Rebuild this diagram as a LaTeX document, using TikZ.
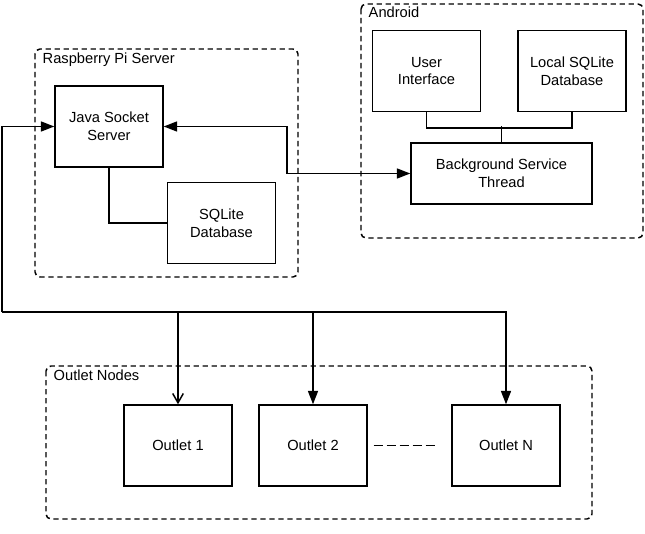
\documentclass[tikz,border=0pt]{standalone}
\usepackage{fontspec}
\setmainfont{Liberation Sans}
\usetikzlibrary{arrows.meta}

\begin{document}
\begin{tikzpicture}[x=0.75pt,y=-0.75pt,line width=1.1pt,
    box/.style={draw,minimum width=81pt,minimum height=60.75pt,align=center,
      font=\fontsize{11}{13.3}\selectfont},
    group/.style={draw,dash pattern=on 4pt off 2.75pt,rounded corners=3.75pt},
    grouplabel/.style={anchor=base west,inner sep=0pt,font=\fontsize{11}{13.3}\selectfont},
    arr/.style={-{Triangle[length=10pt,width=7.5pt]}},
    twoway/.style={{Triangle[length=10pt,width=7.5pt]}-{Triangle[length=10pt,width=7.5pt]}},
    barb/.style={-{Straight Barb[length=7pt,width=8pt]}}]
        \useasboundingbox (0,0) rectangle (645,534) ;
        % groups
        \draw[group] (35,49) rectangle (298,277) ;
        \node[grouplabel] (rpilabel) at (42,64) {Raspberry Pi Server} ;
        \draw[group] (361,4) rectangle (643,238) ;
        \node[grouplabel] (androidlabel) at (368,18) {Android} ;
        \draw[group] (46,366) rectangle (592,519) ;
        \node[grouplabel] (outletlabel) at (53,380) {Outlet Nodes} ;
        % server
        \node[box] (jss) at (109,126.5) {Java Socket\\Server} ;
        \node[box] (sqlite) at (221.5,223) {SQLite\\Database} ;
        \draw (jss.south) |- (sqlite.west) ;
        % android
        \node[box] (ui) at (426.5,71) {User\\Interface} ;
        \node[box] (localdb) at (572,71) {Local SQLite\\Database} ;
        \node[box,minimum width=135.75pt,minimum height=45.75pt] (bst) at (501.5,173.5)
        {Background Service\\Thread} ;
        \draw (ui.south) -- ++(0,16) -| (localdb.south) ;
        \draw (bst.north) -- ++(0,-16) ;
        \coordinate (link) at (287,150) ;
        \draw[twoway] (jss.east) -| (link) |- (bst.west) ;
        % outlets
        \node[box] (o1) at (178,445.5) {Outlet 1} ;
        \node[box] (o2) at (313,445.5) {Outlet 2} ;
        \node[box] (on) at (506,445.5) {Outlet N} ;
        \draw[dash pattern=on 6.75pt off 3pt] ([xshift=4.5pt]o2.east) -- ([xshift=-9.75pt]on.west) ;
        \coordinate (bus) at (2,312) ;
        \draw[arr] (bus) |- (jss.west) ;
        \draw[arr] (bus) -| (on.north) ;
        \draw[barb] (o1.north |- bus) -- (o1.north) ;
        \draw[arr] (o2.north |- bus) -- (o2.north) ;
\end{tikzpicture}
\end{document}
